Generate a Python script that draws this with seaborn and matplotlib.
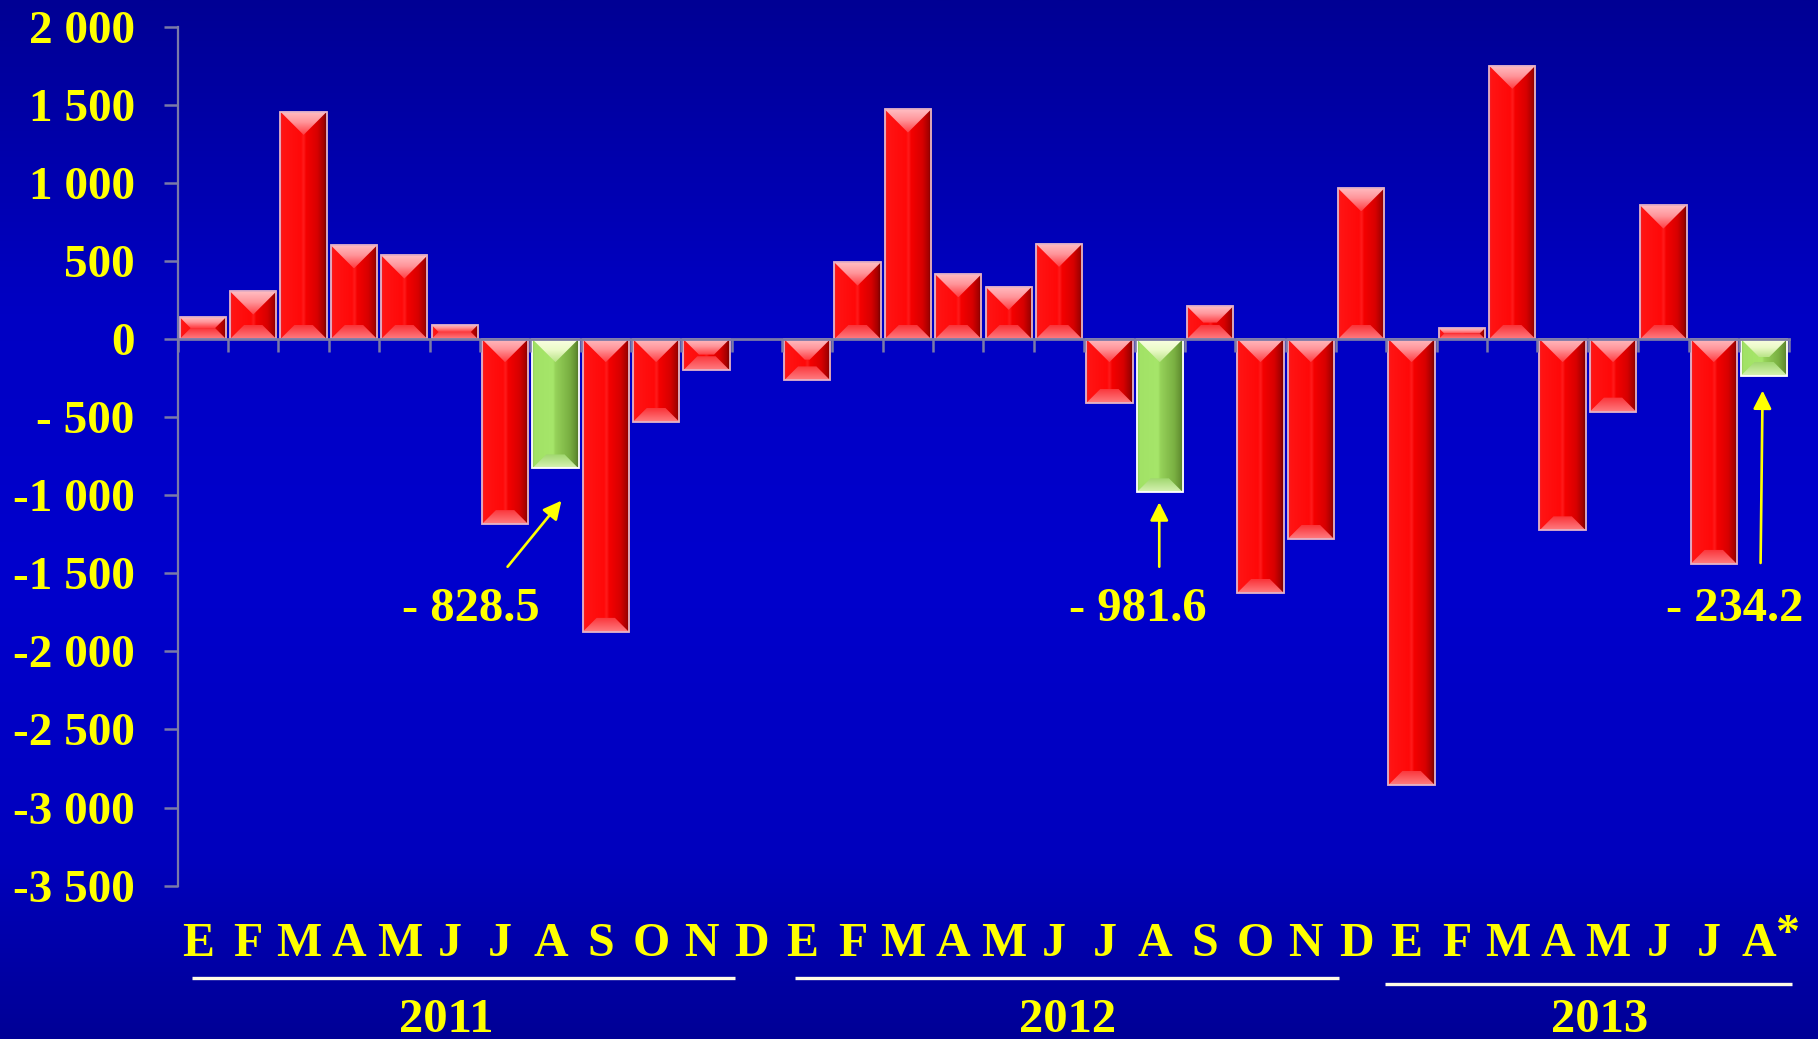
import numpy as np
import pandas as pd
import matplotlib
matplotlib.use("Agg")
import matplotlib.pyplot as plt
import seaborn as sns
from matplotlib import transforms
from matplotlib.patches import Polygon

# ---- data -------------------------------------------------------------
years = ["2011", "2012", "2013"]
months_2011 = ["E", "F", "M", "A", "M", "J", "J", "A", "S", "O", "N", "D"]
months_2012 = ["E", "F", "M", "A", "M", "J", "J", "A", "S", "O", "N", "D"]
months_2013 = ["E", "F", "M", "A", "M", "J", "J", "A"]
values_2011 = [140, 305, 1455, 600, 535, 90, -1185, -828.5, -1875, -530, -200, np.nan]
values_2012 = [-265, 490, 1470, 415, 335, 610, -410, -981.6, 210, -1625, -1280, 965]
values_2013 = [-2855, 70, 1750, -1225, -465, 855, -1440, -234.2]
highlight_month = {"2011": 7, "2012": 7, "2013": 7}   # August of each year
y_ticks = [-3500, -3000, -2500, -2000, -1500, -1000, -500, 0, 500, 1000, 1500, 2000]
y_tick_labels = ["-3 500", "-3 000", "-2 500", "-2 000", "-1 500", "-1 000",
                 "- 500", "0", "500", "1 000", "1 500", "2 000"]

rows = []
for year, months, vals in zip(years, [months_2011, months_2012, months_2013],
                              [values_2011, values_2012, values_2013]):
    for i, (m, v) in enumerate(zip(months, vals)):
        rows.append({"key": f"{year}-{i:02d}", "month": m, "year": year, "value": v,
                     "kind": "highlight" if highlight_month[year] == i else "normal"})
df = pd.DataFrame(rows)
keys = list(df["key"])

# ---- styling ----------------------------------------------------------
YELLOW = "#ffff00"
AXIS = "#7a7aa8"
FONT = "Liberation Serif"
RED = "#ff0000"
GREEN = "#96d25a"


def ramp(stops, n=128):
    pos = np.array([s[0] for s in stops])
    cols = np.array([s[1] for s in stops], dtype=float) / 255.0
    t = np.linspace(0, 1, n)
    return np.stack([np.interp(t, pos, cols[:, k]) for k in range(cols.shape[1])], axis=1)


styles = {
    "normal": {
        "body": ramp([(0.0, (235, 40, 50)), (0.05, (255, 20, 20)), (0.45, (255, 8, 8)),
                      (0.5, (255, 28, 28)), (0.56, (245, 0, 0)), (0.8, (215, 0, 0)),
                      (0.93, (165, 0, 0)), (1.0, (110, 0, 0))]),
        "top": ramp([(0.0, (255, 190, 195)), (0.45, (255, 150, 155)), (1.0, (255, 60, 65))]),
        "bottom": ramp([(0.0, (255, 125, 130)), (1.0, (250, 50, 55))]),
        "edge": "#e6b4c8",
    },
    "highlight": {
        "body": ramp([(0.0, (140, 200, 85)), (0.05, (162, 226, 102)), (0.45, (166, 230, 106)),
                      (0.5, (150, 210, 90)), (0.8, (122, 176, 66)), (0.93, (100, 145, 50)),
                      (1.0, (80, 115, 40))]),
        "top": ramp([(0.0, (252, 255, 230)), (0.5, (235, 250, 200)), (1.0, (185, 228, 135))]),
        "bottom": ramp([(0.0, (215, 242, 180)), (1.0, (160, 215, 110))]),
        "edge": "#ffffff",
    },
}

# ---- figure -----------------------------------------------------------
fig = plt.figure(figsize=(18.18, 10.39), dpi=100)

bg = fig.add_axes([0, 0, 1, 1], zorder=0)
bg_grad = ramp([(0.0, (0, 0, 148)), (0.3, (0, 0, 196)), (0.55, (0, 0, 205)),
                (0.82, (0, 0, 190)), (1.0, (0, 0, 150))], n=256)
bg.imshow(bg_grad[:, None, :], aspect="auto", extent=[0, 1, 0, 1], interpolation="bilinear")
bg.set_axis_off()

ax = fig.add_axes([0.09774, 0.14755, 0.88647, 0.82685], zorder=1)
ax.patch.set_alpha(0)

sns.barplot(data=df, x="key", y="value", hue="kind", order=keys,
            hue_order=["normal", "highlight"],
            palette={"normal": RED, "highlight": GREEN},
            dodge=False, width=0.92, saturation=1, errorbar=None,
            legend=False, ax=ax)

XLIM = (-0.5, len(keys) - 0.5)
YLIM = (-3500, 2000)
ax.set_xlim(*XLIM)
ax.set_ylim(*YLIM)

to_px = ax.transData.transform
to_data = ax.transData.inverted().transform


def shade(arr, extent, clip, z):
    im = ax.imshow(arr, extent=extent, aspect="auto", interpolation="bilinear", zorder=z)
    im.set_clip_path(clip)
    return im


# bevelled look for every bar, built in pixel space so the mitres are 45 degrees
for p in list(ax.patches):
    x0, w = p.get_x(), p.get_width()
    y0, h = p.get_y(), p.get_height()
    if not np.isfinite(h) or h == 0:
        continue
    fc = p.get_facecolor()
    st = styles["highlight" if fc[1] > 0.5 else "normal"]
    ya, yb = sorted([y0, y0 + h])
    (L, B), (R, T) = to_px([(x0, ya), (x0 + w, yb)])
    pw, ph = R - L, T - B

    shade(st["body"][None, :, :], [x0, x0 + w, ya, yb], p, 1.2)

    dt = min(pw / 2, ph / 2)
    top_poly = Polygon(to_data([(L, T), (R, T), (R - dt, T - dt), (L + dt, T - dt)]),
                       closed=True, transform=ax.transData)
    y_dt = to_data([(L, T - dt)])[0][1]
    shade(st["top"][:, None, :], [x0, x0 + w, y_dt, yb], top_poly, 1.3)

    db = min(pw / 2, ph / 2, 14)
    bot_poly = Polygon(to_data([(L, B), (R, B), (R - db, B + db), (L + db, B + db)]),
                       closed=True, transform=ax.transData)
    y_db = to_data([(L, B + db)])[0][1]
    shade(st["bottom"][::-1, None, :], [x0, x0 + w, ya, y_db], bot_poly, 1.3)

    p.set_facecolor("none")
    p.set_edgecolor(st["edge"])
    p.set_linewidth(1.3)
    p.set_zorder(1.5)

ax.set_xlim(*XLIM)
ax.set_ylim(*YLIM)

# ---- axes -------------------------------------------------------------
ax.grid(False)
ax.set_xlabel("")
ax.set_ylabel("")
for side in ("top", "right"):
    ax.spines[side].set_visible(False)
ax.spines["left"].set_color(AXIS)
ax.spines["left"].set_linewidth(1.6)
ax.spines["bottom"].set_position(("data", 0))
ax.spines["bottom"].set_color(AXIS)
ax.spines["bottom"].set_linewidth(2.0)
ax.spines["bottom"].set_zorder(2.5)

ax.set_xticks(np.arange(-0.5, len(keys), 1.0))
ax.tick_params(axis="x", direction="out", length=9.4, width=1.8, color=AXIS,
               labelbottom=False)
ax.set_yticks(y_ticks, labels=y_tick_labels)
ax.tick_params(axis="y", direction="out", length=10, width=1.8, color=AXIS, pad=21)
for t in ax.get_yticklabels():
    t.set_fontfamily(FONT)
    t.set_fontweight("bold")
    t.set_fontsize(34)
    t.set_color(YELLOW)

# month letters under the plot
xtrans = transforms.blended_transform_factory(ax.transData, ax.transAxes)
letter_trans = xtrans + transforms.ScaledTranslation(-5 / 100, 0, fig.dpi_scale_trans)
for i, m in enumerate(df["month"]):
    ax.text(i, -0.0818, m, transform=letter_trans, ha="center", va="baseline",
            fontsize=34.5, fontweight="bold", family=FONT, color=YELLOW, clip_on=False)
ax.text(31.46, -0.0719, "*", transform=xtrans, ha="center", va="baseline",
        fontsize=34.5, fontweight="bold", family=FONT, color=YELLOW, clip_on=False)

# year brackets
year_lines = [(-0.22, 10.57, -0.1074), (11.76, 22.56, -0.1074), (23.47, 31.56, -0.1144)]
year_centres = [4.83, 17.16, 27.74]
for (xa, xb, yy), xc, yr in zip(year_lines, year_centres, years):
    ax.plot([xa, xb], [yy, yy], transform=xtrans, color="#fffbe6", lw=2.4,
            solid_capstyle="butt", clip_on=False)
    ax.text(xc, -0.1700, yr, transform=xtrans, ha="center", va="baseline",
            fontsize=35, fontweight="bold", family=FONT, color=YELLOW, clip_on=False)

# call-outs for the highlighted months
callouts = [
    {"text": "- 828.5", "tip": (7.12, -1035), "tail": (6.05, -1458), "pos": (5.32, -1803)},
    {"text": "- 981.6", "tip": (18.99, -1045), "tail": (18.99, -1458), "pos": (18.56, -1803)},
    {"text": "- 234.2", "tip": (30.97, -330), "tail": (30.93, -1434), "pos": (30.41, -1805)},
]
for c in callouts:
    ax.annotate("", xy=c["tip"], xytext=c["tail"],
                arrowprops=dict(arrowstyle="-|>,head_length=1.1,head_width=0.55",
                                color=YELLOW, lw=1.9, shrinkA=0, shrinkB=0,
                                mutation_scale=10))
    ax.text(*c["pos"], c["text"], ha="center", va="baseline", fontsize=35,
            fontweight="bold", family=FONT, color=YELLOW, clip_on=False)

fig.savefig("out.png", dpi=100)
